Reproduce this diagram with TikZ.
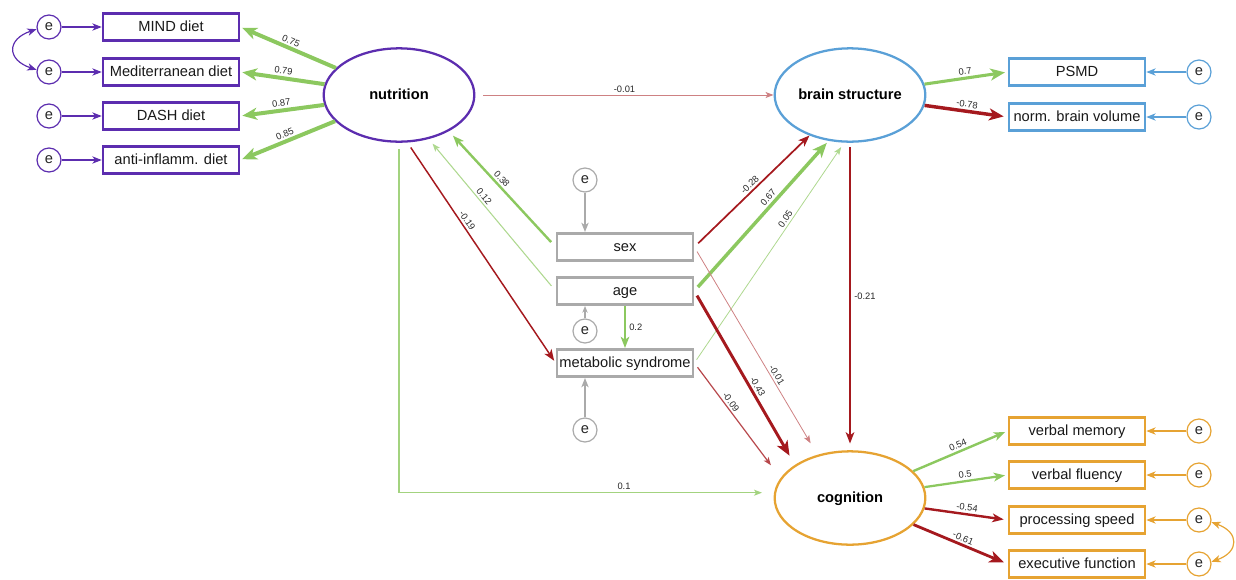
\documentclass[tikz,border=0pt]{standalone}
\usepackage{fontspec}
\setmainfont{Liberation Sans}
\usetikzlibrary{arrows.meta,shapes.geometric,calc}
\definecolor{pur}{RGB}{92,45,175}
\definecolor{blu}{RGB}{90,160,215}
\definecolor{ora}{RGB}{230,163,50}
\definecolor{grn}{RGB}{140,200,95}
\definecolor{dred}{RGB}{165,25,30}
\definecolor{gry}{RGB}{170,170,170}
\definecolor{txt}{RGB}{40,40,40}
\tikzset{
  box/.style={draw, rectangle, line width=2pt, minimum width=102pt, minimum height=20.5pt, inner sep=0pt, fill=white, text=black!90, text height=7pt, text depth=0pt, font=\fontsize{11}{13}\selectfont},
  lat/.style={draw, ellipse, line width=1.7pt, minimum width=113pt, minimum height=70pt, inner sep=0pt, fill=white, text height=7pt, text depth=0pt, font=\fontsize{11}{13}\selectfont\bfseries},
  err/.style={draw, circle, line width=0.9pt, minimum size=18pt, inner sep=0pt, fill=white, text=black!85, text height=5.9pt, text depth=0pt, font=\fontsize{11}{13}\selectfont},
  coef/.style={font=\fontsize{7}{8}\selectfont, text=txt, inner sep=0.6pt},
  tipL/.style={-{Stealth[length=11pt,width=9pt,inset=3pt]}},
  tipM/.style={-{Stealth[length=8.5pt,width=6.5pt,inset=2.3pt]}},
  tipS/.style={-{Stealth[length=6pt,width=4.5pt,inset=1.5pt]}},
  erra/.style={line width=0.9pt, -{Stealth[length=7pt,width=5.5pt,inset=2pt]}},
  cova/.style={line width=0.9pt, {Stealth[length=7pt,width=5.5pt,inset=2pt]}-{Stealth[length=7pt,width=5.5pt,inset=2pt]}}
}
\begin{document}
\begin{tikzpicture}[x=0.75pt,y=-0.75pt]
\useasboundingbox (0,0) rectangle (1236,579);

% latent variables
\node[lat, draw=pur] (nut) at (399,95) {nutrition};
\node[lat, draw=blu] (brain) at (850,95) {brain structure};
\node[lat, draw=ora] (cog) at (850,498) {cognition};

% nutrition indicators
\node[box, draw=pur] (mind) at (171,27) {MIND diet};
\node[box, draw=pur] (med) at (171,72) {Mediterranean diet};
\node[box, draw=pur] (dash) at (171,116) {DASH diet};
\node[box, draw=pur] (anti) at (171,160) {anti-inflamm. diet};
\node[err, draw=pur] (e1) at (49,27) {e};
\node[err, draw=pur] (e2) at (49,72) {e};
\node[err, draw=pur] (e3) at (49,116) {e};
\node[err, draw=pur] (e4) at (49,160) {e};

% brain indicators
\node[box, draw=blu] (psmd) at (1077,72) {PSMD};
\node[box, draw=blu] (nbv) at (1077,117) {norm. brain volume};
\node[err, draw=blu] (e5) at (1199,72) {e};
\node[err, draw=blu] (e6) at (1199,117) {e};

% cognition indicators
\node[box, draw=ora] (vm) at (1077,431) {verbal memory};
\node[box, draw=ora] (vf) at (1077,475) {verbal fluency};
\node[box, draw=ora] (ps) at (1077,520) {processing speed};
\node[box, draw=ora] (ef) at (1077,564) {executive function};
\node[err, draw=ora] (e7) at (1199,431) {e};
\node[err, draw=ora] (e8) at (1199,475) {e};
\node[err, draw=ora] (e9) at (1199,520) {e};
\node[err, draw=ora] (e10) at (1199,564) {e};

% covariates
\node[box, draw=gry] (sex) at (625,247) {sex};
\node[box, draw=gry] (age) at (625,291) {age};
\node[box, draw=gry] (met) at (625,363) {metabolic syndrome};
\node[err, draw=gry] (es) at (585,180) {e};
\node[err, draw=gry] (ea) at (585,331) {e};
\node[err, draw=gry] (em) at (585,430) {e};

% error arrows
\draw[erra, pur] (e1) -- (mind);
\draw[erra, pur] (e2) -- (med);
\draw[erra, pur] (e3) -- (dash);
\draw[erra, pur] (e4) -- (anti);
\draw[cova, pur] (e1.190) .. controls +(-30,10) and +(-30,-10) .. (e2.170);
\draw[erra, blu] (e5) -- (psmd);
\draw[erra, blu] (e6) -- (nbv);
\draw[erra, ora] (e7) -- (vm);
\draw[erra, ora] (e8) -- (vf);
\draw[erra, ora] (e9) -- (ps);
\draw[erra, ora] (e10) -- (ef);
\draw[cova, ora] (e9.-10) .. controls +(28,10) and +(28,-10) .. (e10.10);
\draw[erra, gry] (es) -- (es |- sex.north);
\draw[gry, line width=0.9pt, -{Stealth[length=5pt,width=4pt,inset=1.5pt]}] (ea) -- (ea |- age.south);
\draw[erra, gry] (em) -- (em |- met.south);

% nutrition loadings
\draw[grn, line width=3pt, tipL, shorten >=1.5pt] (nut) -- node[coef, sloped, above=1pt] {0.75} (mind.east);
\draw[grn, line width=3pt, tipL, shorten >=1.5pt] (nut) -- node[coef, sloped, above=1pt] {0.79} (med.east);
\draw[grn, line width=3pt, tipL, shorten >=1.5pt] (nut) -- node[coef, sloped, above=1pt] {0.87} (dash.east);
\draw[grn, line width=3pt, tipL, shorten >=1.5pt] (nut) -- node[coef, sloped, above=1pt] {0.85} (anti.east);

% brain loadings
\draw[grn, line width=2.3pt, tipL, shorten >=2pt] (brain) -- node[coef, sloped, above=1pt] {0.7} (psmd.west);
\draw[dred, line width=2.6pt, tipL, shorten >=3pt] (brain) -- node[coef, sloped, above=1pt] {-0.78} (nbv.west);

% cognition loadings
\draw[grn, line width=1.8pt, tipM, shorten >=2pt] (cog) -- node[coef, sloped, above=1pt] {0.54} (vm.west);
\draw[grn, line width=1.7pt, tipM, shorten >=2pt] (cog) -- node[coef, sloped, above=1pt] {0.5} (vf.west);
\draw[dred, line width=1.8pt, tipM, shorten >=3pt] (cog) -- node[coef, sloped, above=1pt] {-0.54} (ps.west);
\draw[dred, line width=2.1pt, tipL, shorten >=3pt] (cog) -- node[coef, sloped, above=1pt] {-0.61} (ef.west);

% structural paths
\draw[dred!55, line width=0.7pt, tipS, shorten <=6pt] (nut) -- node[coef, above=1pt] {-0.01} (brain);
\draw[dred, line width=1.1pt, tipM, shorten <=4.5pt, shorten >=2pt] (nut.-80) -- node[coef, sloped, above=1pt, pos=0.37] {-0.19} (met.west);
\draw[grn, line width=1.8pt, tipM, shorten <=5pt, shorten >=4.5pt] (sex.west) -- node[coef, sloped, above=1pt, pos=0.55] {0.38} (nut.-36);
\draw[grn!70, line width=0.8pt, tipS, shorten <=5pt, shorten >=4.5pt] (age.west) -- node[coef, sloped, above=1pt, pos=0.6] {0.12} (nut.-56);
\draw[grn!80, line width=0.8pt, tipS, shorten <=5pt, shorten >=9pt] (nut.south) |- node[coef, above=1pt, pos=0.8] {0.1} (cog.176);
\draw[grn, line width=1.2pt, tipM] (age) -- node[coef, right=2pt, pos=0.5] {0.2} (met);
\draw[dred, line width=1.3pt, tipM, shorten <=4pt] (sex.east) -- node[coef, sloped, above=1pt, pos=0.52] {-0.28} (brain.225);
\draw[grn, line width=2.6pt, tipL, shorten <=4pt, shorten >=2pt] (age.east) -- node[coef, sloped, above=1pt, pos=0.59] {0.67} (brain.245);
\draw[grn!70, line width=0.6pt, tipS, shorten <=3pt, shorten >=4pt] (met.east) -- node[coef, sloped, above=1pt, pos=0.64] {0.05} (brain.263);
\draw[dred!55, line width=0.6pt, tipS, shorten <=4pt, shorten >=10pt] (sex.east) -- node[coef, sloped, above=1pt, pos=0.63] {-0.01} (cog.127);
\draw[dred, line width=2.2pt, tipL, shorten <=4pt, shorten >=8pt] (age.east) -- node[coef, sloped, above=1pt, pos=0.57] {-0.43} (cog.149);
\draw[dred!80, line width=0.9pt, tipS, shorten <=4pt, shorten >=12pt] (met.east) -- node[coef, sloped, above=1pt, pos=0.37] {-0.09} (cog.164);
\draw[dred, line width=1.3pt, tipM, shorten <=3pt, shorten >=5pt] (brain) -- node[coef, right=2pt, pos=0.5] {-0.21} (cog);
\end{tikzpicture}
\end{document}
